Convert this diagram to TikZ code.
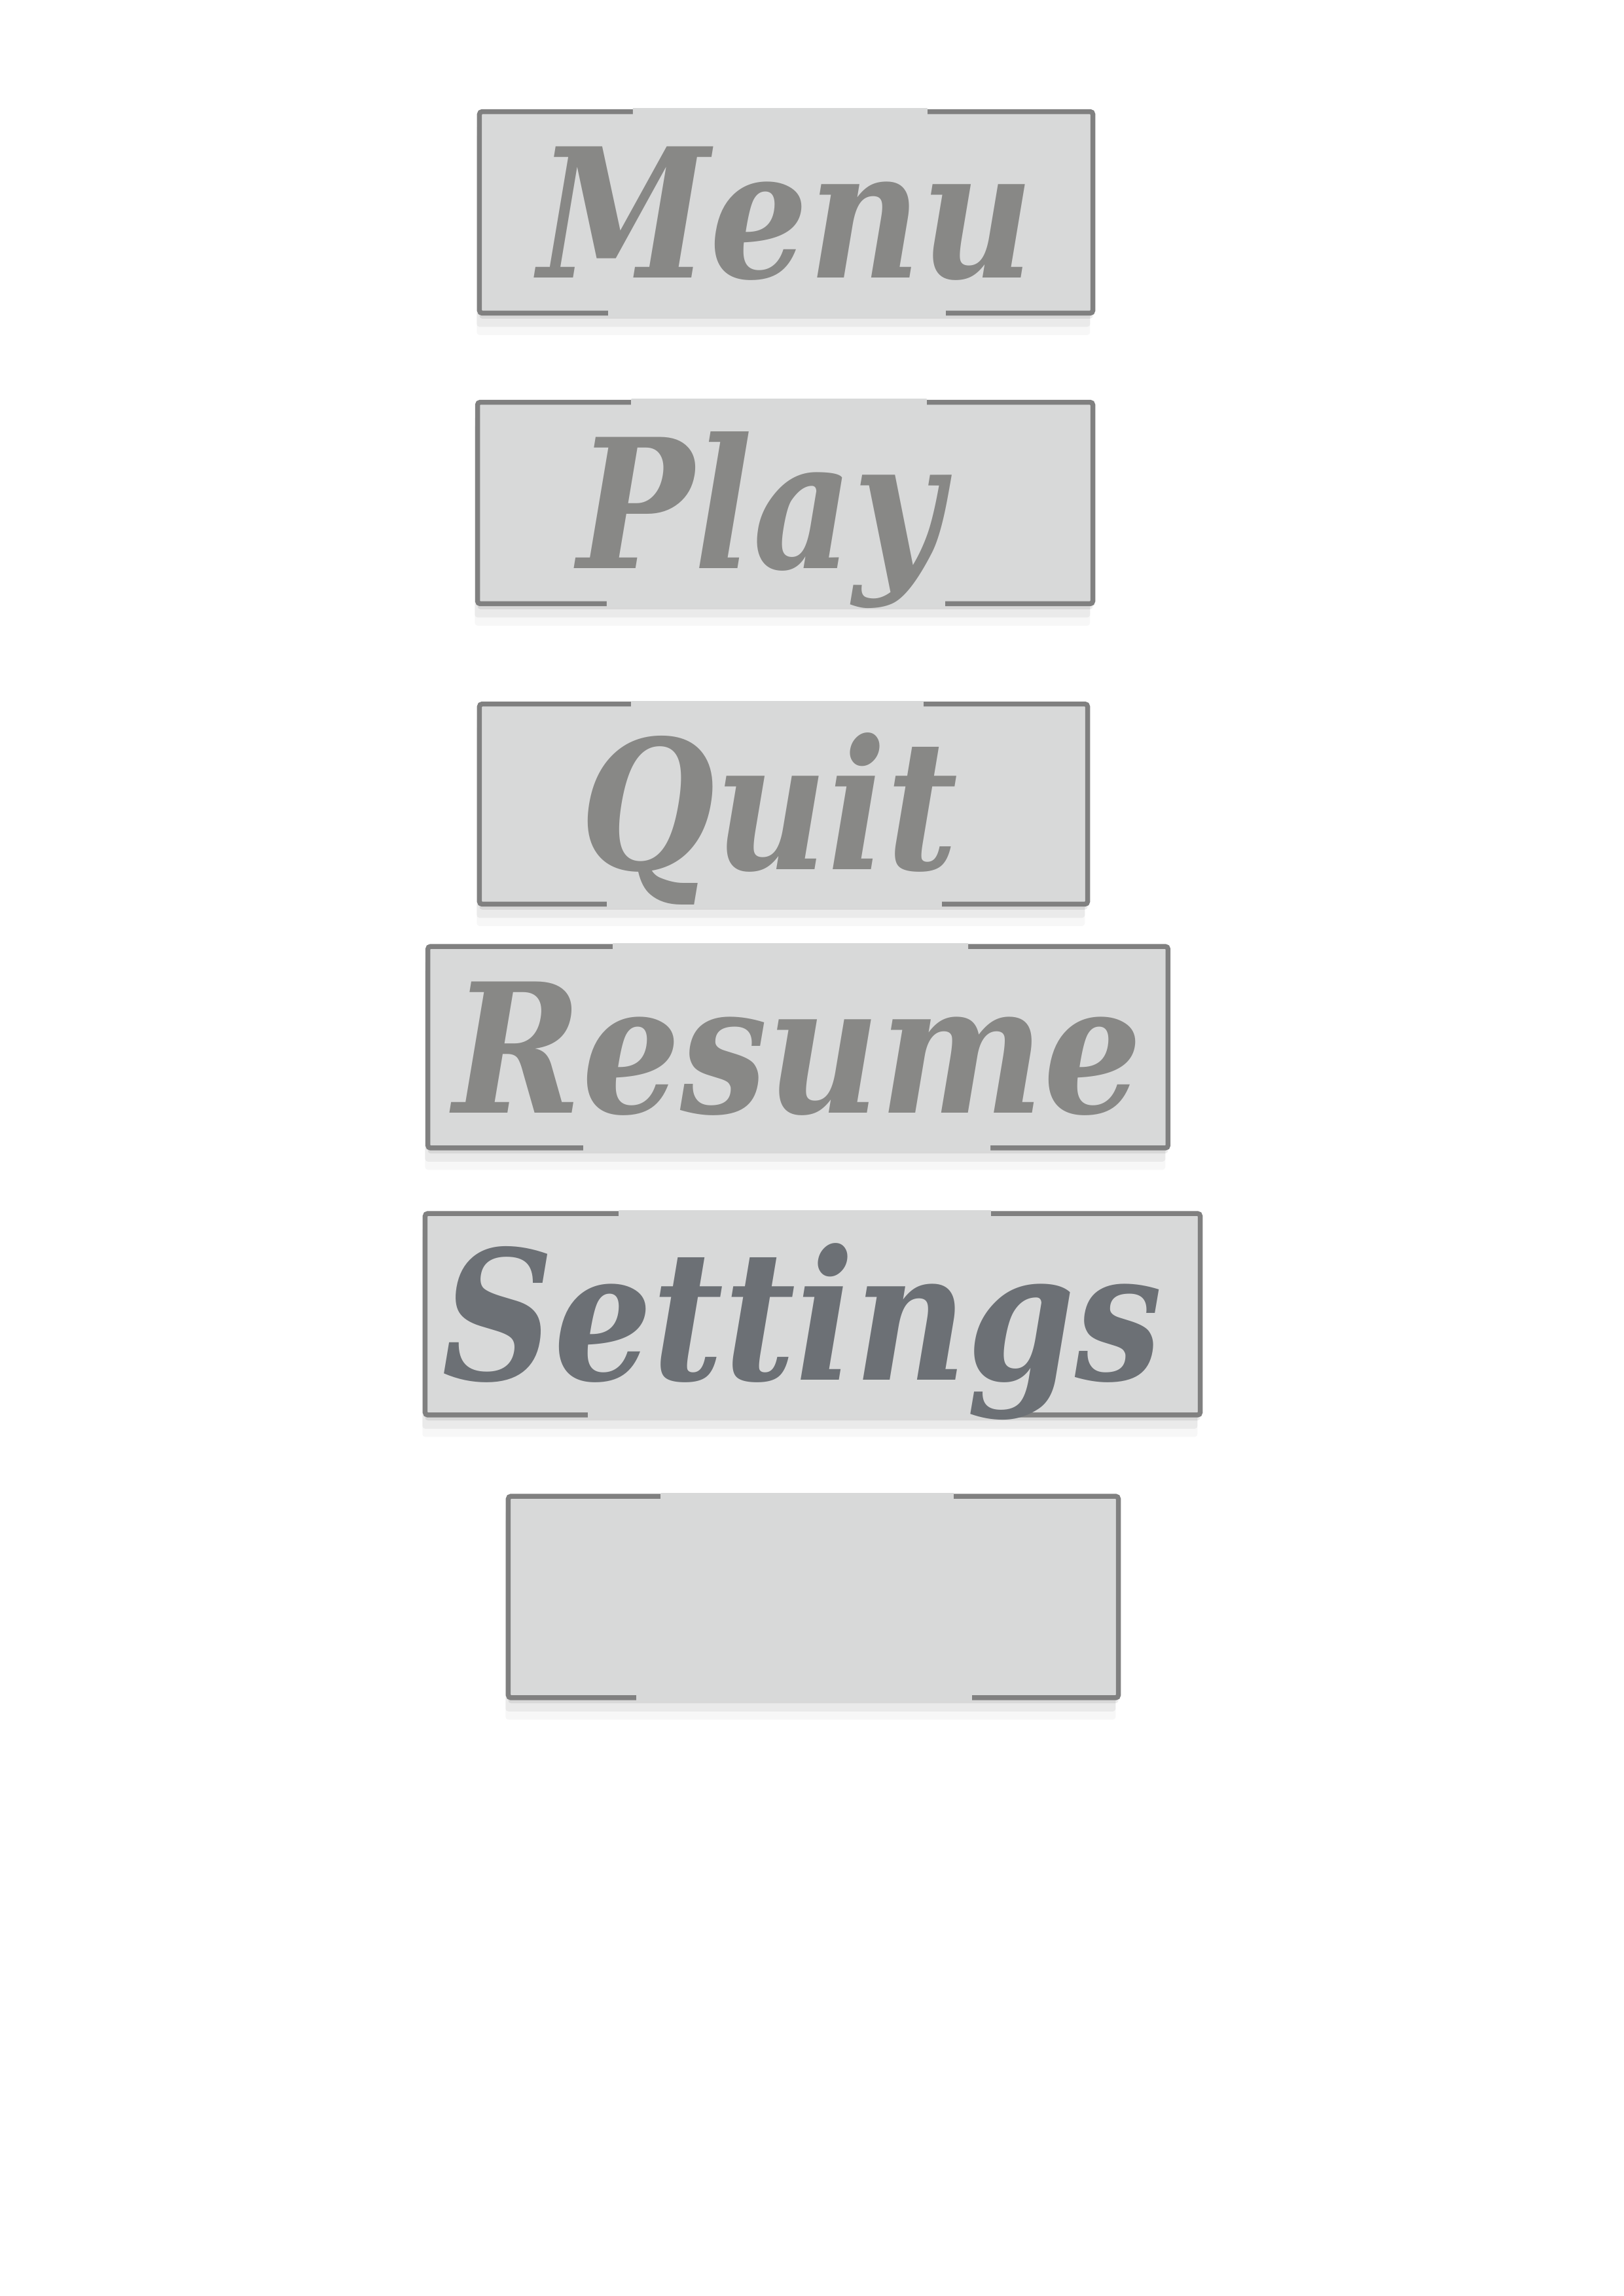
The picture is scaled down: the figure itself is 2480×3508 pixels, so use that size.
\documentclass[tikz,border=0pt]{standalone}
\usepackage{fontspec}
\usepackage{tikz}
\usetikzlibrary{shapes,shadows,positioning,calc}
\newfontfamily\stonefont[FakeStretch=0.86]{DejaVu Serif}
\definecolor{rim}{RGB}{128,128,128}
\definecolor{panel}{RGB}{216,217,217}
\definecolor{stone}{RGB}{136,136,134}
\definecolor{slate}{RGB}{108,112,117}
\pgfdeclarehorizontalshading{rimfade}{100bp}{color(0bp)=(rim); color(8bp)=(panel); color(92bp)=(panel); color(100bp)=(rim)}
\tikzstyle{boton} = [draw=rim, fill=panel, line width=1.8pt, rectangle, rounded corners=1pt, outer sep=0pt, minimum height=73.9pt, inner sep=0pt,
  general shadow={shadow yshift=-2pt, opacity=.07, fill=black},
  general shadow={shadow yshift=-5pt, shadow xshift=-1pt, opacity=.05, fill=black},
  general shadow={shadow yshift=-8pt, shadow xshift=-1pt, opacity=.03, fill=black}]
\tikzstyle{rotulo} = [inner sep=0pt, text=stone, font={\stonefont\bfseries\itshape\fontsize{66}{70}\selectfont}, text height=48pt, text depth=0pt]

\begin{document}
\begin{tikzpicture}[x=0.24pt,y=-0.24pt]
\fill[white] (0,0) rectangle (2480,3508);
\node[boton, minimum width=224.9pt] (menu) at (1201,324.5) {};
\node[boton, minimum width=225.6pt] (play) at (1199.5,768.5) {};
\node[boton, minimum width=223pt, minimum height=73.4pt] (quit) at (1197,1228.5) {};
\node[boton, minimum width=271.4pt] (resume) at (1219,1600) {};
\node[boton, minimum width=284.2pt] (settings) at (1241.5,2008) {};
\node[boton, minimum width=223.7pt] (blank) at (1242.5,2440) {};
% borde que se desvanece en el centro
\foreach \b in {menu,play,quit,resume,settings,blank}{
  \shade[shading=rimfade] ($(\b.north west)!.25!(\b.north east)+(0,-1.1pt)$) rectangle ($(\b.north west)!.73!(\b.north east)+(0,1.1pt)$);
  \shade[shading=rimfade] ($(\b.south west)!.21!(\b.south east)+(0,-1.1pt)$) rectangle ($(\b.south west)!.76!(\b.south east)+(0,1.1pt)$);
}
\node[rotulo] (menutxt) at (menu) {Menu};
\node[rotulo, xshift=-9.1pt] (playtxt) at (play) {Play};
\node[rotulo, xshift=-5.3pt] (quittxt) at (quit) {Quit};
\node[rotulo] (resumetxt) at (resume) {Resume};
\node[rotulo, xshift=-3.8pt, text=slate] (settingstxt) at (settings) {Settings};
\end{tikzpicture}
\end{document}
